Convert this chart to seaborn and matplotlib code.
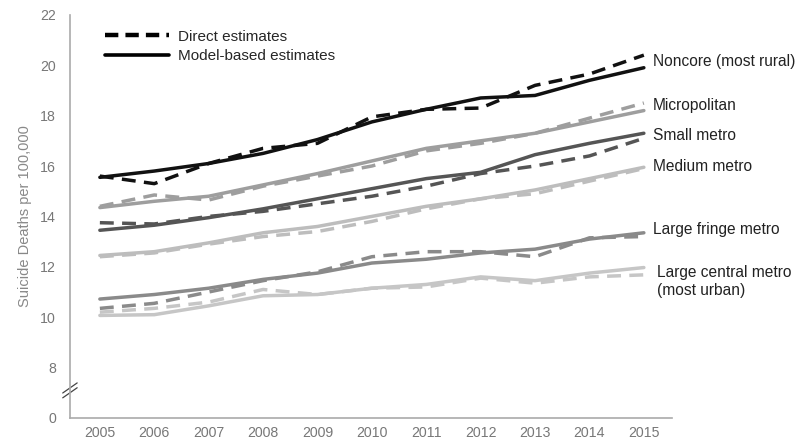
import pandas as pd
import seaborn as sns
import matplotlib.pyplot as plt
from matplotlib.lines import Line2D

sns.set_theme(style="white")
plt.rcParams['font.family'] = ['Liberation Sans', 'DejaVu Sans']

years = list(range(2005, 2016))

regions = ["Noncore (most rural)", "Micropolitan", "Small metro", "Medium metro",
           "Large fringe metro", "Large central metro\n(most urban)"]

model_noncore = [15.55, 15.8, 16.1, 16.5, 17.05, 17.75, 18.25, 18.7, 18.8, 19.4, 19.9]
direct_noncore = [15.6, 15.3, 16.1, 16.7, 16.9, 17.95, 18.25, 18.3, 19.2, 19.65, 20.4]
model_micro = [14.35, 14.6, 14.8, 15.25, 15.7, 16.2, 16.7, 17.0, 17.3, 17.75, 18.2]
direct_micro = [14.4, 14.85, 14.65, 15.2, 15.6, 16.0, 16.6, 16.9, 17.3, 17.9, 18.5]
model_small = [13.45, 13.65, 13.95, 14.3, 14.7, 15.1, 15.5, 15.75, 16.45, 16.9, 17.3]
direct_small = [13.75, 13.7, 14.0, 14.2, 14.5, 14.8, 15.2, 15.7, 16.0, 16.4, 17.1]
model_medium = [12.45, 12.6, 12.95, 13.35, 13.6, 14.0, 14.4, 14.7, 15.05, 15.5, 15.95]
direct_medium = [12.4, 12.55, 12.9, 13.2, 13.4, 13.8, 14.3, 14.7, 14.9, 15.4, 15.9]
model_fringe = [10.72, 10.9, 11.15, 11.5, 11.75, 12.15, 12.3, 12.55, 12.7, 13.1, 13.35]
direct_fringe = [10.35, 10.55, 11.0, 11.45, 11.8, 12.4, 12.6, 12.6, 12.4, 13.15, 13.2]
model_central = [10.07, 10.1, 10.45, 10.85, 10.9, 11.15, 11.3, 11.6, 11.45, 11.75, 11.97]
direct_central = [10.2, 10.35, 10.6, 11.1, 10.9, 11.15, 11.2, 11.55, 11.35, 11.6, 11.68]

model_vals = [model_noncore, model_micro, model_small, model_medium, model_fringe, model_central]
direct_vals = [direct_noncore, direct_micro, direct_small, direct_medium, direct_fringe, direct_central]

colors = ["#111111", "#9e9e9e", "#555555", "#bdbdbd", "#8a8a8a", "#c6c6c6"]
label_y = [20.13, 18.4, 17.2, 16.0, 13.47, 11.4]
label_dx = [0.17, 0.17, 0.17, 0.17, 0.17, 0.25]

# y axis is broken: "0" sits one step below 8
ytick_pos = [6, 8, 10, 12, 14, 16, 18, 20, 22]
ytick_lbl = ["0", "8", "10", "12", "14", "16", "18", "20", "22"]

fig = plt.figure(figsize=(8.04, 4.45), dpi=100)
ax = fig.add_axes([0.087, 0.0607, 0.749, 0.906])

for name, mv, dv, c in zip(regions, model_vals, direct_vals, colors):
    sns.lineplot(x=years, y=dv, ax=ax, color=c, lw=2.5)
    ax.lines[-1].set_dashes((4, 2.4))
    sns.lineplot(x=years, y=mv, ax=ax, color=c, lw=2.5)

for name, y, dx in zip(regions, label_y, label_dx):
    ax.text(2015 + dx, y, name, fontsize=11.2, color="#222222", va="center", ha="left",
            linespacing=1.25)

ax.set_xlim(2004.45, 2015.52)
ax.set_ylim(6, 22)
ax.set_xticks(years)
ax.set_xticklabels([str(y) for y in years])
ax.set_yticks(ytick_pos)
ax.set_yticklabels(ytick_lbl)
ax.tick_params(axis="both", length=0, labelsize=10.2, labelcolor="#777777")
ax.tick_params(axis="x", pad=6)
ax.tick_params(axis="y", pad=10)
ax.set_ylabel("Suicide Deaths per 100,000", fontsize=10.5, color="#888888", labelpad=6)
ax.set_xlabel("")

for s in ["top", "right"]:
    ax.spines[s].set_visible(False)
for s in ["left", "bottom"]:
    ax.spines[s].set_color("#aaaaaa")
    ax.spines[s].set_linewidth(1.2)

# axis break marks
for off in [0.0, 0.012]:
    ax.plot([-0.012, 0.012], [0.05 + off, 0.075 + off], transform=ax.transAxes,
            color="#444444", lw=0.9, clip_on=False)

handles = [Line2D([0], [0], color="black", lw=3.2, dashes=(3, 1.6)),
           Line2D([0], [0], color="black", lw=2.6)]
ax.legend(handles, ["Direct estimates", "Model-based estimates"], loc="upper left",
          bbox_to_anchor=(0.04, 0.99), frameon=False, fontsize=11, handlelength=4.2,
          handletextpad=0.6, labelspacing=0.35, borderaxespad=0.3)

fig.savefig("out.png", dpi=100)
